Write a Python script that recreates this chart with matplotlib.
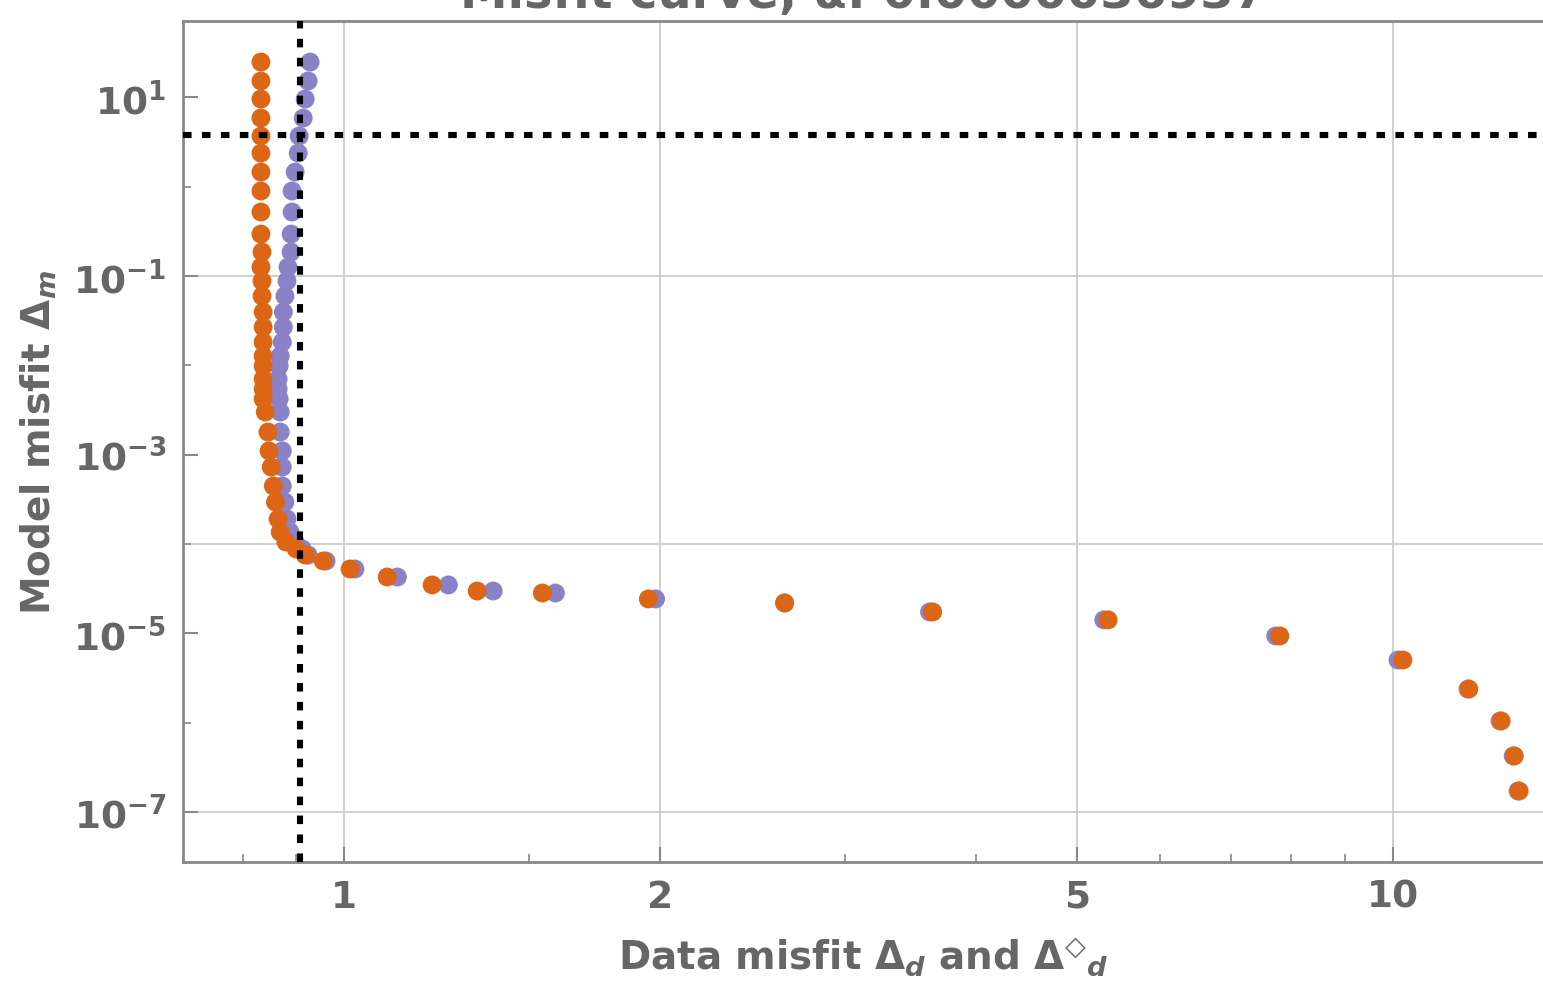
import matplotlib
matplotlib.use("Agg")
import matplotlib.pyplot as plt

# Model misfit (shared by both curves)
model_misfit = [24.9, 15.3, 9.6, 5.88, 3.70, 2.38, 1.46, 0.896, 0.521, 0.295,
                0.186, 0.126, 0.0879, 0.0597, 0.0395, 0.0268, 0.0182, 0.0127,
                0.00982, 0.00703, 0.00543, 0.00420, 0.00300, 0.00179, 0.00110,
                7.26e-4, 4.45e-4, 2.94e-4, 1.90e-4, 1.36e-4, 1.05e-4, 8.77e-5,
                7.51e-5, 6.44e-5, 5.24e-5, 4.26e-5, 3.47e-5, 2.97e-5, 2.82e-5,
                2.42e-5, 2.18e-5, 1.73e-5, 1.41e-5, 9.31e-6, 5.01e-6, 2.37e-6,
                1.04e-6, 4.22e-7, 1.71e-7]

# Data misfit Delta_d (orange)
data_misfit = [0.833, 0.833, 0.833, 0.833, 0.833, 0.833, 0.833, 0.833, 0.833,
               0.833, 0.835, 0.833, 0.835, 0.835, 0.837, 0.837, 0.837, 0.837,
               0.837, 0.837, 0.837, 0.837, 0.841, 0.846, 0.848, 0.852, 0.856,
               0.860, 0.865, 0.869, 0.880, 0.900, 0.918, 0.955, 1.013, 1.099,
               1.213, 1.339, 1.545, 1.950, 2.630, 3.64, 5.35, 7.80, 10.22,
               11.81, 12.68, 13.05, 13.19]

# Data misfit Delta-diamond_d (purple)
data_misfit_alt = [0.928, 0.924, 0.918, 0.914, 0.906, 0.904, 0.898, 0.892,
                   0.892, 0.890, 0.890, 0.884, 0.882, 0.878, 0.875, 0.875,
                   0.873, 0.869, 0.867, 0.865, 0.865, 0.867, 0.869, 0.869,
                   0.873, 0.873, 0.873, 0.878, 0.882, 0.888, 0.898, 0.912,
                   0.924, 0.961, 1.024, 1.124, 1.257, 1.387, 1.590, 1.981,
                   2.630, 3.615, 5.30, 7.73, 10.11, 11.79, 12.65, 13.02, 13.16]

# Selected point (dotted crosshair)
chosen_x = 0.908
chosen_y = 3.79
alpha_text = "0.0000036937"

x_ticks = [1, 2, 5, 10]
x_tick_labels = ["1", "2", "5", "10"]
x_minor = [0.8, 0.9, 1.5, 3, 4, 6, 7, 8, 9]
y_ticks = [1e1, 1e-1, 1e-3, 1e-5, 1e-7]
y_tick_labels = [r"$\mathbf{10^{1}}$", r"$\mathbf{10^{-1}}$", r"$\mathbf{10^{-3}}$",
                 r"$\mathbf{10^{-5}}$", r"$\mathbf{10^{-7}}$"]
y_minor = [1e0, 1e-2, 1e-4, 1e-6]
x_grid = [1, 2, 5, 10]
y_grid = [1e-1, 1e-4, 1e-7]

text_gray = "#666666"
plt.rcParams["mathtext.fontset"] = "dejavusans"
plt.rcParams["font.family"] = "DejaVu Sans"
plt.rcParams["font.weight"] = "bold"

fig = plt.figure(figsize=(15.43, 9.87), dpi=100)
ax = fig.add_axes([183 / 1543, 1 - 863 / 987, 1 - 183 / 1543, (863 - 22) / 987])
ax.set_xscale("log")
ax.set_yscale("log")
ax.set_xlim(0.702, 13.9)
ax.set_ylim(2.74e-8, 71.8)

# grid lines
for gx in x_grid:
    ax.axvline(gx, color="#cccccc", lw=1.3, zorder=0)
for gy in y_grid:
    ax.axhline(gy, color="#cccccc", lw=1.3, zorder=0)

# points
ax.scatter(data_misfit_alt, model_misfit, s=185, color="#8a82c6",
           edgecolors="none", zorder=2)
ax.scatter(data_misfit, model_misfit, s=185, color="#dd6616",
           edgecolors="none", zorder=3)

# dotted crosshair
ax.axvline(chosen_x, color="black", lw=4.4, linestyle=(0, (1.4, 1.7)), zorder=4)
ax.axhline(chosen_y, color="black", lw=4.4, linestyle=(0, (1.4, 1.7)), zorder=4)

# ticks
ax.set_xticks(x_ticks)
ax.set_xticklabels(x_tick_labels)
ax.set_xticks(x_minor, minor=True)
ax.set_xticklabels([], minor=True)
ax.set_yticks(y_ticks)
ax.set_yticklabels(y_tick_labels)
ax.set_yticks(y_minor, minor=True)
ax.set_yticklabels([], minor=True)
ax.tick_params(which="major", direction="in", length=11, width=1.5,
               color="#888888", labelsize=27, labelcolor=text_gray, pad=12)
ax.tick_params(which="minor", direction="in", length=6, width=1.2,
               color="#888888")
ax.tick_params(axis="both", which="both", top=False, right=False)

for side in ["left", "bottom", "top"]:
    ax.spines[side].set_color("#888888")
    ax.spines[side].set_linewidth(2)
ax.spines["right"].set_visible(False)

ax.set_xlabel("Data misfit $\\mathbf{\\Delta}_{d}$ and $\\mathbf{\\Delta}^{\u25c7}{}_{d}$",
              fontsize=28, color=text_gray, fontweight="bold", labelpad=14)
ax.set_ylabel(r"Model misfit $\mathbf{\Delta}_{m}$", fontsize=28,
              color=text_gray, fontweight="bold", labelpad=10)

# title sits mostly above the canvas, only its lower part shows
fig.text(863 / 1543, 1 - 8 / 987, "Misfit curve, α: " + alpha_text,
         ha="center", va="baseline", fontsize=34.5, color=text_gray,
         fontweight="bold")

fig.savefig("out.png", dpi=100)
